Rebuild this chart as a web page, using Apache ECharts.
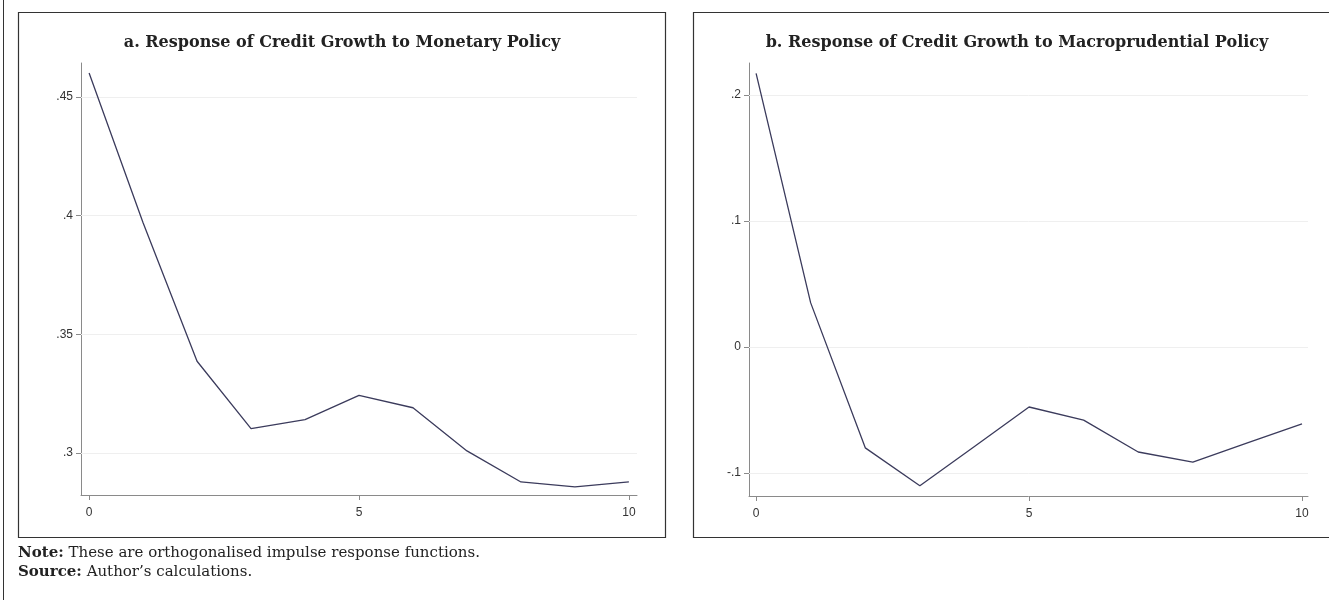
<!DOCTYPE html>
<html>
<head>
<meta charset="utf-8">
<script src="https://cdn.jsdelivr.net/npm/echarts@6/dist/echarts.min.js"></script>
<style>
  html, body { margin: 0; padding: 0; background: #fff; }
  #chart { width: 1329px; height: 600px; }
</style>
</head>
<body>
<div id="chart"></div>
<script>
  // impulse horizon (periods after shock)
  var horizons = [0, 1, 2, 3, 4, 5, 6, 7, 8, 9, 10];
  // a. credit growth response to monetary policy shock
  var monetaryResp = [0.4602, 0.397, 0.3386, 0.3102, 0.314, 0.3242, 0.319, 0.3008, 0.2877, 0.2856, 0.2877];
  // b. credit growth response to macroprudential policy shock
  var macroResp = [0.217, 0.035, -0.080, -0.110, -0.079, -0.0476, -0.058, -0.0833, -0.0913, -0.076, -0.061];
  // tick labels
  var xTicks = [0, 5, 10];
  var yTicksA = [0.3, 0.35, 0.4, 0.45];
  var yTicksB = [-0.1, 0, 0.1, 0.2];

  var serif = '"DejaVu Serif", "Liberation Serif", serif';
  var sans = '"Liberation Sans", Arial, sans-serif';

  // stata style: no leading zero
  function fmt(v) {
    var s = String(+(+v).toFixed(3));
    return s.replace(/^(-?)0\./, '$1.');
  }

  function pairs(vals) {
    return horizons.map(function (h, i) { return [h, vals[i]]; });
  }

  function xAxisCfg(idx, min, max) {
    return {
      type: 'value', gridIndex: idx, min: min, max: max,
      axisLine: { show: true, onZero: false, lineStyle: { color: '#8a8a8a', width: 1 } },
      axisTick: { show: true, length: 5, customValues: xTicks, lineStyle: { color: '#8a8a8a' } },
      axisLabel: { customValues: xTicks, margin: 12, color: '#333', fontFamily: sans, fontSize: 12 },
      splitLine: { show: false }
    };
  }

  function yAxisCfg(idx, min, max, ticks) {
    return {
      type: 'value', gridIndex: idx, min: min, max: max,
      axisLine: { show: true, onZero: false, lineStyle: { color: '#8a8a8a', width: 1 } },
      axisTick: { show: true, length: 5, customValues: ticks, lineStyle: { color: '#8a8a8a' } },
      axisLabel: { customValues: ticks, margin: 8, color: '#333', fontFamily: sans, fontSize: 12,
        formatter: function (v) { return fmt(v); } },
      splitLine: { show: false }
    };
  }

  function lineSeries(idx, vals, ticks) {
    return {
      type: 'line', xAxisIndex: idx, yAxisIndex: idx,
      data: pairs(vals),
      showSymbol: false, symbol: 'none', z: 3,
      lineStyle: { color: '#3b3b5c', width: 1.3 },
      animation: false,
      markLine: {
        silent: true, symbol: 'none', animation: false, z: 1,
        label: { show: false },
        lineStyle: { color: '#efefef', type: 'solid', width: 1 },
        data: ticks.map(function (t) { return { yAxis: t }; })
      }
    };
  }

  var noteStyle = {
    rich: { b: { fontFamily: serif, fontWeight: 'bold', fontSize: 15, color: '#222' } },
    fontFamily: serif, fontWeight: 'normal', fontSize: 15, color: '#222'
  };

  var chart = echarts.init(document.getElementById('chart'));
  chart.setOption({
    backgroundColor: '#fff',
    animation: false,
    title: [
      { text: 'a. Response of Credit Growth to Monetary Policy', left: 342, top: 35, textAlign: 'center', padding: 0,
        textStyle: { fontFamily: serif, fontWeight: 'bold', fontSize: 16, color: '#222' } },
      { text: 'b. Response of Credit Growth to Macroprudential Policy', left: 1017, top: 35, textAlign: 'center', padding: 0,
        textStyle: { fontFamily: serif, fontWeight: 'bold', fontSize: 16, color: '#222' } },
      { text: '{b|Note:} These are orthogonalised impulse response functions.', left: 18, top: 546, padding: 0,
        textStyle: noteStyle },
      { text: '{b|Source:} Author\u2019s calculations.', left: 18, top: 565, padding: 0,
        textStyle: noteStyle }
    ],
    graphic: [
      { type: 'line', shape: { x1: 3.5, y1: 0, x2: 3.5, y2: 600 }, style: { stroke: '#333', lineWidth: 1 } },
      { type: 'rect', shape: { x: 18.5, y: 12.5, width: 647, height: 525 },
        style: { fill: 'none', stroke: '#333', lineWidth: 1.2 }, z: -1 },
      { type: 'rect', shape: { x: 693.5, y: 12.5, width: 647, height: 525 },
        style: { fill: 'none', stroke: '#333', lineWidth: 1.2 }, z: -1 }
    ],
    grid: [
      { left: 81, top: 63, width: 556, height: 432 },
      { left: 749, top: 63, width: 559, height: 433 }
    ],
    xAxis: [
      xAxisCfg(0, -0.15, 10.15),
      xAxisCfg(1, -0.13, 10.11)
    ],
    yAxis: [
      yAxisCfg(0, 0.2822, 0.4644, yTicksA),
      yAxisCfg(1, -0.1182, 0.2253, yTicksB)
    ],
    series: [
      lineSeries(0, monetaryResp, yTicksA),
      lineSeries(1, macroResp, yTicksB)
    ]
  });
</script>
</body>
</html>
